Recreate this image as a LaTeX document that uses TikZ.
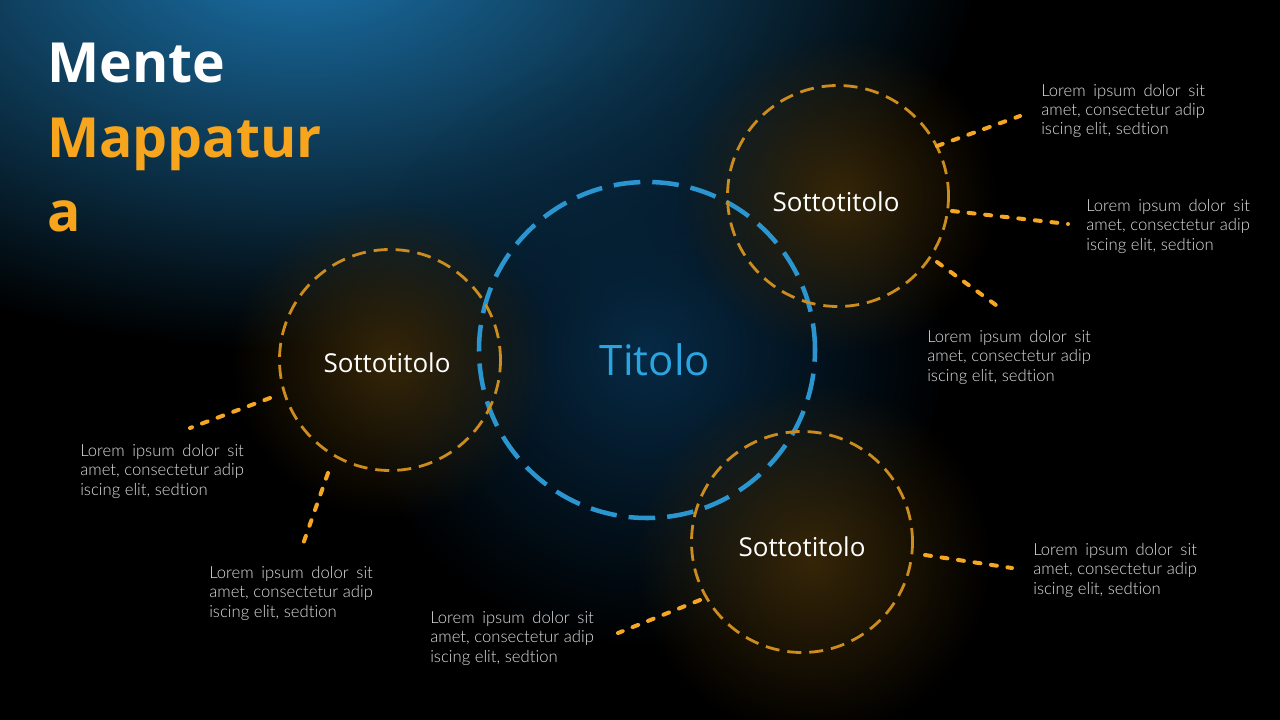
\documentclass[tikz,border=0pt]{standalone}
\usepackage{fontspec}
\setmainfont{Open Sans}
\newfontfamily\loremfont{Lato Light}[Ligatures=NoCommon]
\newfontfamily\titlefont{Open Sans Bold}
\usetikzlibrary{fadings}
\tikzfading[name=glowfade, inner color=transparent!0, outer color=transparent!100]
\definecolor{bgblue}{HTML}{1C74AC}
\definecolor{midblue}{HTML}{072A45}
\definecolor{glowor}{HTML}{362608}
\definecolor{ringblue}{HTML}{2B95CF}
\definecolor{titblue}{HTML}{2AA5E2}
\definecolor{ringor}{HTML}{CC8D1E}
\definecolor{lineor}{HTML}{F5A623}
\definecolor{titor}{HTML}{F7A51C}
\definecolor{loremgray}{HTML}{E0E0E0}
\newcommand\loremblock{\setbox0\hbox{amet, consectetur adip}\hbox to\wd0{Lorem\hfill ipsum\hfill dolor\hfill sit}\\amet, consectetur adip\\iscing elit, sedtion}
\tikzset{
  bigring/.style={circle, draw=ringblue, line width=3.4pt, dash pattern=on 20pt off 9pt, minimum size=336*0.75pt, inner sep=0pt},
  smallring/.style={circle, draw=ringor, line width=2.1pt, dash pattern=on 10.5pt off 6pt, minimum size=221*0.75pt, inner sep=0pt},
  link/.style={draw=lineor, line width=3pt, line cap=round, dash pattern=on 4.5pt off 8pt},
  lorem/.style={anchor=base west, inner sep=0pt, align=left, text=loremgray, font=\loremfont\fontsize{12.5pt}{14.6pt}\selectfont},
  subt/.style={text=white, font=\fontsize{19.5pt}{23pt}\selectfont},
  bigtitle/.style={anchor=base west, inner sep=0pt, font=\titlefont\fontsize{41.5pt}{48pt}\selectfont}
}
\begin{document}
\begin{tikzpicture}[x=0.75pt, y=-0.75pt]
\useasboundingbox (0,0) rectangle (1280,720);
\fill[black] (0,0) rectangle (1280,720);
\begin{scope}
\clip (0,0) rectangle (1280,720);
% background glows
\fill[bgblue, path fading=glowfade] (300,-50) ellipse (680 and 400);
\fill[midblue, path fading=glowfade] (647,350) circle (300);
\fill[glowor, path fading=glowfade] (390,360) circle (160);
\fill[glowor, path fading=glowfade] (838,196) circle (160);
\fill[glowor, path fading=glowfade] (812,560) circle (180);
\end{scope}
% rings
\node[bigring] (main) at (647,350) {};
\node[smallring] (lc) at (390,360) {};
\node[smallring] (trc) at (838,196) {};
\node[smallring] (brc) at (802,542) {};
% labels in rings
\node[text=titblue, font=\fontsize{31.5pt}{36pt}\selectfont] (tit) at (655,360) {Titolo};
\node[subt] (lt) at (387,363) {Sottotitolo};
\node[subt] (trt) at (836,202) {Sottotitolo};
\node[subt] (brt) at (802,547) {Sottotitolo};
% connector end points
\coordinate (tr1a) at (937,146); \coordinate (tr1b) at (1020,116);
\coordinate (tr2a) at (952,211); \coordinate (tr2b) at (1068,224);
\coordinate (tr3a) at (937,262); \coordinate (tr3b) at (1000,308);
\coordinate (l1a) at (270,398);  \coordinate (l1b) at (190,428);
\coordinate (l2a) at (328,473);  \coordinate (l2b) at (302,547);
\coordinate (br1a) at (700,600); \coordinate (br1b) at (618,633);
\coordinate (br2a) at (925,555); \coordinate (br2b) at (1012,568);
\draw[link] (tr1a) -- (tr1b);
\draw[link] (tr2a) -- (tr2b);
\draw[link] (tr3a) -- (tr3b);
\draw[link] (l1a) -- (l1b);
\draw[link] (l2a) -- (l2b);
\draw[link] (br1a) -- (br1b);
\draw[link] (br2a) -- (br2b);
% text blocks (anchored at baseline of last line)
\node[lorem] (t1) at (1041,135) {\loremblock};
\node[lorem] (t2) at (1086,250) {\loremblock};
\node[lorem] (t3) at (927,381) {\loremblock};
\node[lorem] (t4) at (80,495) {\loremblock};
\node[lorem] (t5) at (209,617) {\loremblock};
\node[lorem] (t6) at (430,662) {\loremblock};
\node[lorem] (t7) at (1033,594) {\loremblock};
% title
\node[bigtitle, text=white] (m1) at (47,83) {Mente};
\node[bigtitle, text=titor] (m2) at (47,158) {Mappatur};
\node[bigtitle, text=titor] (m3) at (47,232) {a};
\end{tikzpicture}
\end{document}
